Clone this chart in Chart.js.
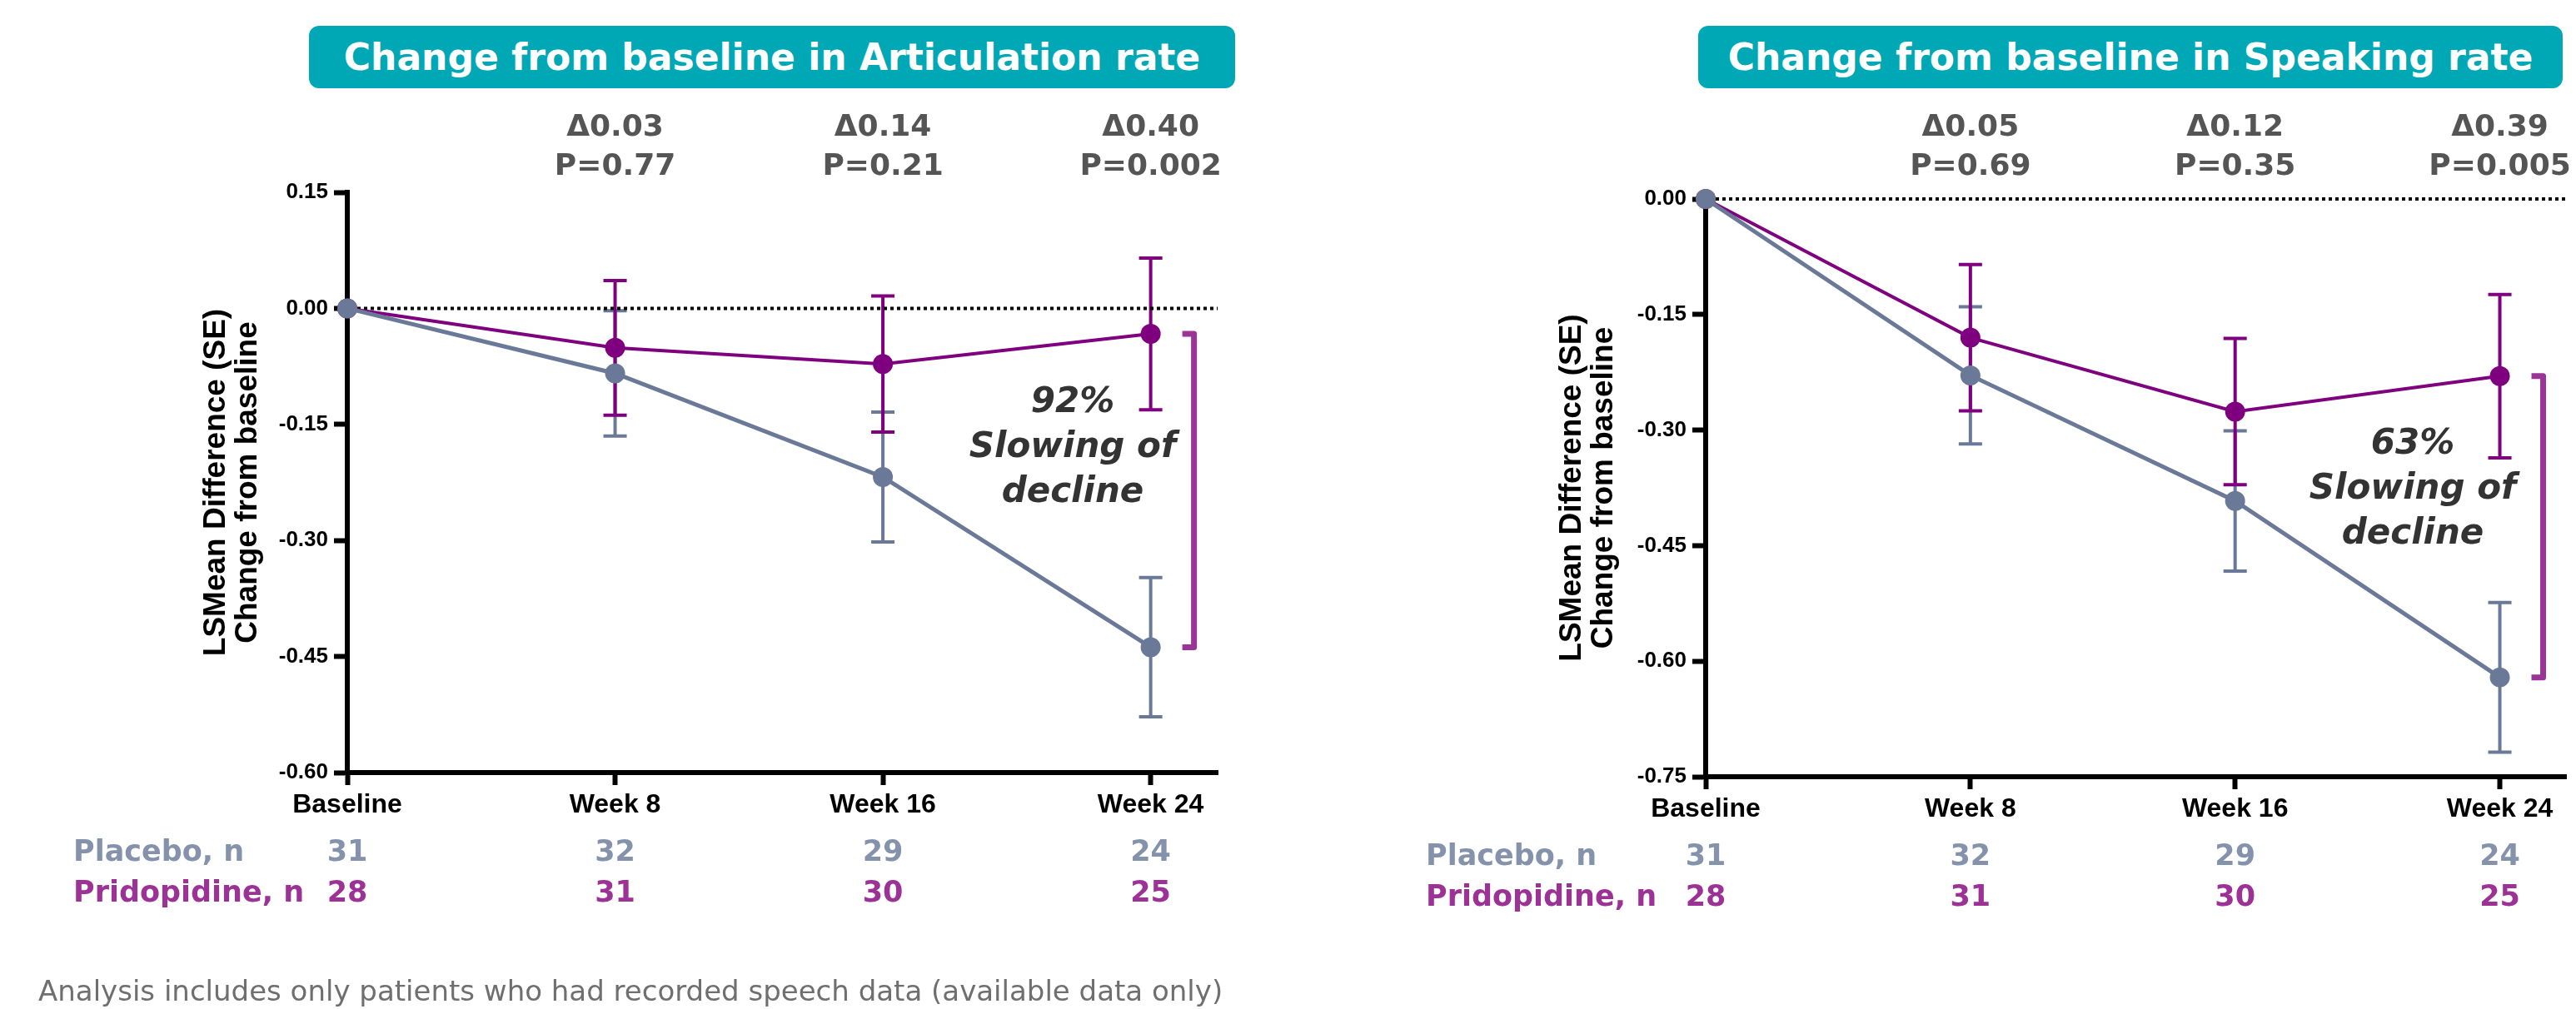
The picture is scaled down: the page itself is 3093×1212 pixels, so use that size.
<!DOCTYPE html>
<html>
<head>
<meta charset="utf-8">
<script src="https://cdn.jsdelivr.net/npm/chart.js@4.4.1/dist/chart.umd.min.js"></script>
<style>
  html, body { margin: 0; padding: 0; background: #fff; }
  body { width: 3093px; height: 1212px; position: relative; overflow: hidden; font-family: 'DejaVu Sans', sans-serif; }
  canvas { position: absolute; top: 0; }
  .title-box {
    position: absolute; top: 31px; height: 75px; background: #00a8b6; border-radius: 12px;
    color: #fff; font-weight: 700; font-size: 44px; display: flex; align-items: center; justify-content: center;
    white-space: nowrap;
  }
  #footnote { position: absolute; left: 46px; top: 1170px; font-size: 34px; color: #6f6f6f; white-space: nowrap; }
</style>
</head>
<body>
<div class="title-box" style="left:371px; width:1112px;">Change from baseline in Articulation rate</div>
<div class="title-box" style="left:2039px; width:1038px;">Change from baseline in Speaking rate</div>
<canvas id="artChart" width="1545" height="1212" style="left:0px;"></canvas>
<canvas id="spkChart" width="1533" height="1212" style="left:1560px;"></canvas>
<div id="footnote">Analysis includes only patients who had recorded speech data (available data only)</div>

<script>
const timepoints = ['Baseline', 'Week 8', 'Week 16', 'Week 24'];
const weeks = [0, 8, 16, 24];

// Articulation rate
const artPlacebo = [0, -0.084, -0.218, -0.438];
const artPlaceboSE = [0, 0.081, 0.084, 0.090];
const artPrido = [0, -0.051, -0.072, -0.033];
const artPridoSE = [0, 0.087, 0.088, 0.098];
const artDelta = ['Δ0.03', 'Δ0.14', 'Δ0.40'];
const artP = ['P=0.77', 'P=0.21', 'P=0.002'];
const artYTicks = [0.15, 0, -0.15, -0.30, -0.45, -0.60];

// Speaking rate
const spkPlacebo = [0, -0.229, -0.392, -0.621];
const spkPlaceboSE = [0, 0.089, 0.091, 0.097];
const spkPrido = [0, -0.180, -0.276, -0.230];
const spkPridoSE = [0, 0.095, 0.095, 0.106];
const spkDelta = ['Δ0.05', 'Δ0.12', 'Δ0.39'];
const spkP = ['P=0.69', 'P=0.35', 'P=0.005'];
const spkYTicks = [0, -0.15, -0.30, -0.45, -0.60, -0.75];

// patients per visit
const placeboN = [31, 32, 29, 24];
const pridoN = [28, 31, 30, 25];

const PLACEBO = '#6a7997';
const PRIDO = '#7f007f';
const PLACEBO_TXT = '#8493ab';
const PRIDO_TXT = '#9c3196';
const BRACKET = '#9b3497';
const DARK = '#555555';
const WIDE = "'DejaVu Sans', sans-serif";
const ARIAL = "'Liberation Sans', Arial, sans-serif";

const toPoints = vals => weeks.map((w, i) => ({ x: w, y: vals[i] }));

const errorBars = {
    id: 'errorBars',
    beforeDatasetsDraw(chart) {
        const { ctx, scales: { x, y } } = chart;
        chart.data.datasets.forEach(ds => {
            if (!ds.se) return;
            ctx.save();
            ctx.strokeStyle = ds.borderColor;
            ctx.lineWidth = 4;
            ds.data.forEach((pt, i) => {
                const se = ds.se[i];
                if (!se) return;
                const px = x.getPixelForValue(pt.x);
                const top = y.getPixelForValue(pt.y + se);
                const bot = y.getPixelForValue(pt.y - se);
                ctx.beginPath();
                ctx.moveTo(px, top); ctx.lineTo(px, bot);
                ctx.moveTo(px - 14, top); ctx.lineTo(px + 14, top);
                ctx.moveTo(px - 14, bot); ctx.lineTo(px + 14, bot);
                ctx.stroke();
            });
            ctx.restore();
        });
    }
};

function makePanel(id, cfg) {
    const ctx = document.getElementById(id).getContext('2d');

    const extras = {
        id: 'extras_' + id,
        beforeDatasetsDraw(chart) {
            // dotted zero line
            const { ctx, chartArea, scales: { y } } = chart;
            const y0 = y.getPixelForValue(0);
            ctx.save();
            ctx.strokeStyle = '#000';
            ctx.lineWidth = 4;
            ctx.setLineDash([4, 4]);
            ctx.beginPath();
            ctx.moveTo(chartArea.left + 4, y0);
            ctx.lineTo(chartArea.right, y0);
            ctx.stroke();
            ctx.restore();
        },
        afterDraw(chart) {
            const { ctx, chartArea, scales: { x, y } } = chart;
            ctx.save();
            ctx.textAlign = 'center';
            ctx.textBaseline = 'middle';

            // delta / p-values above each visit
            ctx.fillStyle = DARK;
            ctx.font = `700 36px ${WIDE}`;
            cfg.delta.forEach((d, i) => {
                const px = x.getPixelForValue(weeks[i + 1]);
                ctx.fillText(d, px, cfg.deltaY);
                ctx.fillText(cfg.pvals[i], px, cfg.deltaY + 47);
            });

            // n table
            const rowA = chartArea.bottom + 97;
            const rowB = chartArea.bottom + 146;
            ctx.font = `700 35px ${WIDE}`;
            ctx.textAlign = 'left';
            ctx.fillStyle = PLACEBO_TXT;
            ctx.fillText('Placebo, n', cfg.rowLabelX, rowA);
            ctx.fillStyle = PRIDO_TXT;
            ctx.fillText('Pridopidine, n', cfg.rowLabelX, rowB);
            ctx.textAlign = 'center';
            weeks.forEach((w, i) => {
                const px = x.getPixelForValue(w);
                ctx.fillStyle = PLACEBO_TXT;
                ctx.fillText(String(placeboN[i]), px, rowA);
                ctx.fillStyle = PRIDO_TXT;
                ctx.fillText(String(pridoN[i]), px, rowB);
            });

            // bracket between last means
            const last = weeks.length - 1;
            const bx = x.getPixelForValue(weeks[last]) + 52;
            const by1 = y.getPixelForValue(cfg.prido[last]);
            const by2 = y.getPixelForValue(cfg.placebo[last]);
            ctx.strokeStyle = BRACKET;
            ctx.lineWidth = 7;
            ctx.lineJoin = 'round';
            ctx.beginPath();
            ctx.moveTo(bx - 14, by1);
            ctx.lineTo(bx, by1);
            ctx.lineTo(bx, by2);
            ctx.lineTo(bx - 14, by2);
            ctx.stroke();

            // slowing annotation
            ctx.fillStyle = '#333333';
            ctx.font = `italic 700 42px ${WIDE}`;
            const ax = x.getPixelForValue(cfg.annX);
            const ay = y.getPixelForValue(cfg.annY);
            ctx.fillText(cfg.pct, ax, ay - 54);
            ctx.fillText('Slowing of', ax, ay);
            ctx.fillText('decline', ax, ay + 54);
            ctx.restore();
        }
    };

    return new Chart(ctx, {
        type: 'line',
        data: {
            datasets: [
                {
                    label: 'Placebo',
                    data: toPoints(cfg.placebo),
                    se: cfg.placeboSE,
                    borderColor: PLACEBO,
                    backgroundColor: PLACEBO,
                    borderWidth: 5,
                    pointRadius: 12,
                    pointBorderWidth: 0,
                    clip: false
                },
                {
                    label: 'Pridopidine',
                    data: toPoints(cfg.prido),
                    se: cfg.pridoSE,
                    borderColor: PRIDO,
                    backgroundColor: PRIDO,
                    borderWidth: 4,
                    pointRadius: 12,
                    pointBorderWidth: 0,
                    clip: false
                }
            ]
        },
        options: {
            responsive: false,
            animation: false,
            events: [],
            layout: {
                padding: { left: cfg.padLeft, top: cfg.padTop, right: cfg.padRight, bottom: cfg.padBottom }
            },
            scales: {
                x: {
                    type: 'linear',
                    min: 0,
                    max: 26,
                    afterBuildTicks: s => { s.ticks = weeks.map(v => ({ value: v })); },
                    afterFit: s => { s.height = 60; },
                    grid: { drawOnChartArea: false, tickLength: 15, tickWidth: 6, tickColor: '#000' },
                    border: { color: '#000', width: 6 },
                    ticks: {
                        color: '#000',
                        padding: 5,
                        maxRotation: 0,
                        font: { family: ARIAL, size: 32, weight: 'bold' },
                        callback: (v, i) => timepoints[i]
                    }
                },
                y: {
                    min: cfg.yTicks[cfg.yTicks.length - 1],
                    max: cfg.yTicks[0],
                    afterBuildTicks: s => { s.ticks = cfg.yTicks.map(v => ({ value: v })); },
                    afterFit: s => { s.width = cfg.yWidth; },
                    grid: { drawOnChartArea: false, tickLength: 16, tickWidth: 6, tickColor: '#000' },
                    border: { color: '#000', width: 6 },
                    ticks: {
                        color: '#000',
                        padding: 7,
                        font: { family: ARIAL, size: 26, weight: 'bold' },
                        callback: v => v.toFixed(2)
                    },
                    title: {
                        display: true,
                        text: ['LSMean Difference (SE)', 'Change from baseline'],
                        color: '#000',
                        padding: { top: 0, bottom: 0 },
                        font: { family: ARIAL, size: 37, weight: 'bold', lineHeight: 1.05 }
                    }
                }
            },
            plugins: {
                legend: { display: false },
                tooltip: { enabled: false }
            }
        },
        plugins: [errorBars, extras]
    });
}

makePanel('artChart', {
    placebo: artPlacebo, placeboSE: artPlaceboSE,
    prido: artPrido, pridoSE: artPridoSE,
    delta: artDelta, pvals: artP, yTicks: artYTicks,
    padLeft: 240, yWidth: 177, padTop: 231, padRight: 83, padBottom: 224,
    deltaY: 154, rowLabelX: 88,
    annX: 21.67, annY: -0.18, pct: '92%'
});

makePanel('spkChart', {
    placebo: spkPlacebo, placeboSE: spkPlaceboSE,
    prido: spkPrido, pridoSE: spkPridoSE,
    delta: spkDelta, pvals: spkP, yTicks: spkYTicks,
    padLeft: 308, yWidth: 180, padTop: 239, padRight: 1, padBottom: 219,
    deltaY: 154, rowLabelX: 152,
    annX: 21.37, annY: -0.377, pct: '63%'
});
</script>
</body>
</html>
